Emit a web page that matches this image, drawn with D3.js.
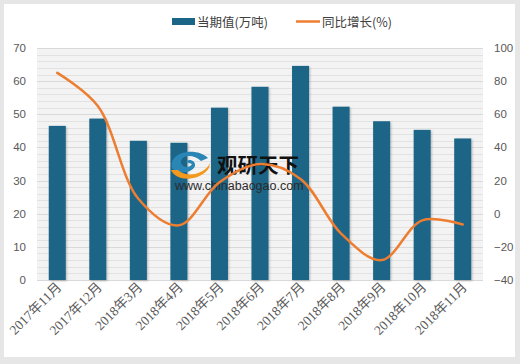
<!DOCTYPE html>
<html>
<head>
<meta charset="utf-8">
<script src="https://cdn.jsdelivr.net/npm/d3@7"></script>
<style>
  body { margin: 0; background: #e6e6e6; }
  svg { display: block; }
</style>
</head>
<body>
<svg id="chart" width="520" height="364"></svg>
<script>
// data
const months = ['2017年11月', '2017年12月', '2018年3月', '2018年4月', '2018年5月', '2018年6月',
  '2018年7月', '2018年8月', '2018年9月', '2018年10月', '2018年11月']
const volume = [46.5, 48.7, 42.0, 41.4, 52.0, 58.3, 64.6, 52.3, 47.9, 45.3, 42.7]
const growth = [85, 65, 9, -7, 19, 30, 21, -12, -28, -4, -6.5]
const leftTicks = [0, 10, 20, 30, 40, 50, 60, 70]
const rightTicks = [-40, -20, 0, 20, 40, 60, 80, 100]

const barColor = '#1b6587'
const lineColor = '#ed7d31'

const svg = d3.select('#chart')

// white panel
svg.append('rect')
  .attr('x', 4).attr('y', 4).attr('width', 511).attr('height', 353)
  .attr('fill', '#fff')

const plot = { left: 37, right: 483, top: 48, bottom: 280 }

const x = d3.scaleBand().domain(months).range([plot.left, plot.right]).paddingInner(0.58).paddingOuter(0.29)
const yL = d3.scaleLinear().domain([0, 70]).range([plot.bottom, plot.top])
const yR = d3.scaleLinear().domain([-40, 100]).range([plot.bottom, plot.top])

// striped background
svg.append('rect')
  .attr('x', plot.left).attr('y', plot.top)
  .attr('width', plot.right - plot.left).attr('height', plot.bottom - plot.top)
  .attr('fill', '#f3f3f3')

svg.append('g')
  .selectAll('line')
  .data(d3.range(0, 71, 2))
  .enter()
  .append('line')
  .attr('x1', plot.left).attr('x2', plot.right)
  .attr('y1', d => Math.round(yL(d)) + 0.5).attr('y2', d => Math.round(yL(d)) + 0.5)
  .attr('stroke', d => d % 10 === 0 ? '#d9d9d9' : '#e2e2e2')

// bar shadow
const defs = svg.append('defs')
const f = defs.append('filter').attr('id', 'shadow').attr('x', '-30%').attr('y', '-10%').attr('width', '160%').attr('height', '120%')
f.append('feDropShadow').attr('dx', 1).attr('dy', 1).attr('stdDeviation', 1.2).attr('flood-color', '#000').attr('flood-opacity', 0.25)

// bars
svg.append('g')
  .selectAll('rect')
  .data(volume)
  .enter()
  .append('rect')
  .attr('x', (d, i) => x(months[i]))
  .attr('width', x.bandwidth())
  .attr('y', d => yL(d))
  .attr('height', d => yL(0) - yL(d))
  .attr('fill', barColor)
  .attr('filter', 'url(#shadow)')

// watermark
const wm = svg.append('g')
wm.append('path')
  .attr('d', 'M172,168 C168,152 196,146 208,158 L201,161 C193,153 180,155 181,163 C183,168 190,168 192,164 L186,162 C188,158 196,160 195,166 C192,174 176,174 172,168 Z')
  .attr('fill', '#2a86b5')
wm.append('path')
  .attr('d', 'M171,170 C176,182 200,182 209,168 L210,163 C204,175 186,178 178,170 Z')
  .attr('fill', '#f39a1e')
wm.append('text')
  .attr('x', 217).attr('y', 173)
  .attr('font-family', '"Noto Sans CJK SC", sans-serif')
  .attr('font-size', 20.5).attr('font-weight', 'bold')
  .attr('fill', '#111')
  .text('观研天下')
wm.append('text')
  .attr('x', 175).attr('y', 190)
  .attr('font-family', '"Liberation Sans", Arial, sans-serif')
  .attr('font-size', 12.5)
  .attr('fill', '#2b2b2b')
  .text('www.chinabaogao.com')

// line
const line = d3.line()
  .x((d, i) => x(months[i]) + x.bandwidth() / 2)
  .y(d => yR(d))
  .curve(d3.curveCatmullRom.alpha(0.5))

svg.append('path')
  .datum(growth)
  .attr('d', line)
  .attr('fill', 'none')
  .attr('stroke', lineColor)
  .attr('stroke-width', 2.5)
  .attr('stroke-linecap', 'round')

// axes
const tickFont = '"Liberation Sans", Arial, sans-serif'
svg.append('g')
  .selectAll('text')
  .data(leftTicks)
  .enter()
  .append('text')
  .attr('x', 26).attr('y', d => yL(d) + 4)
  .attr('text-anchor', 'end')
  .attr('font-family', tickFont).attr('font-size', 11.5).attr('fill', '#595959')
  .text(d => d)

svg.append('g')
  .selectAll('text')
  .data(rightTicks)
  .enter()
  .append('text')
  .attr('x', 494).attr('y', d => yR(d) + 4)
  .attr('text-anchor', 'start')
  .attr('font-family', tickFont).attr('font-size', 11.5).attr('fill', '#595959')
  .text(d => d < 0 ? '\u2212' + Math.abs(d) : d)

svg.append('g')
  .selectAll('text')
  .data(months)
  .enter()
  .append('text')
  .attr('transform', d => `translate(${x(d) + x.bandwidth() / 2 + 5},${plot.bottom + 8}) rotate(-45)`)
  .attr('text-anchor', 'end')
  .attr('font-family', '"Liberation Serif", "Noto Sans CJK SC", serif')
  .attr('font-size', 13.5).attr('fill', '#595959')
  .text(d => d)

// legend
const legend = svg.append('g').attr('font-family', '"Noto Sans CJK SC", sans-serif').attr('font-size', 12.5).attr('fill', '#404040')
legend.append('rect').attr('x', 172).attr('y', 18).attr('width', 23).attr('height', 7).attr('fill', barColor)
legend.append('text').attr('x', 197).attr('y', 26.5).text('当期值(万吨)')
legend.append('line').attr('x1', 296).attr('x2', 320).attr('y1', 21.5).attr('y2', 21.5).attr('stroke', lineColor).attr('stroke-width', 2.5)
legend.append('text').attr('x', 322).attr('y', 26.5).text('同比增长(%)')
</script>
</body>
</html>
